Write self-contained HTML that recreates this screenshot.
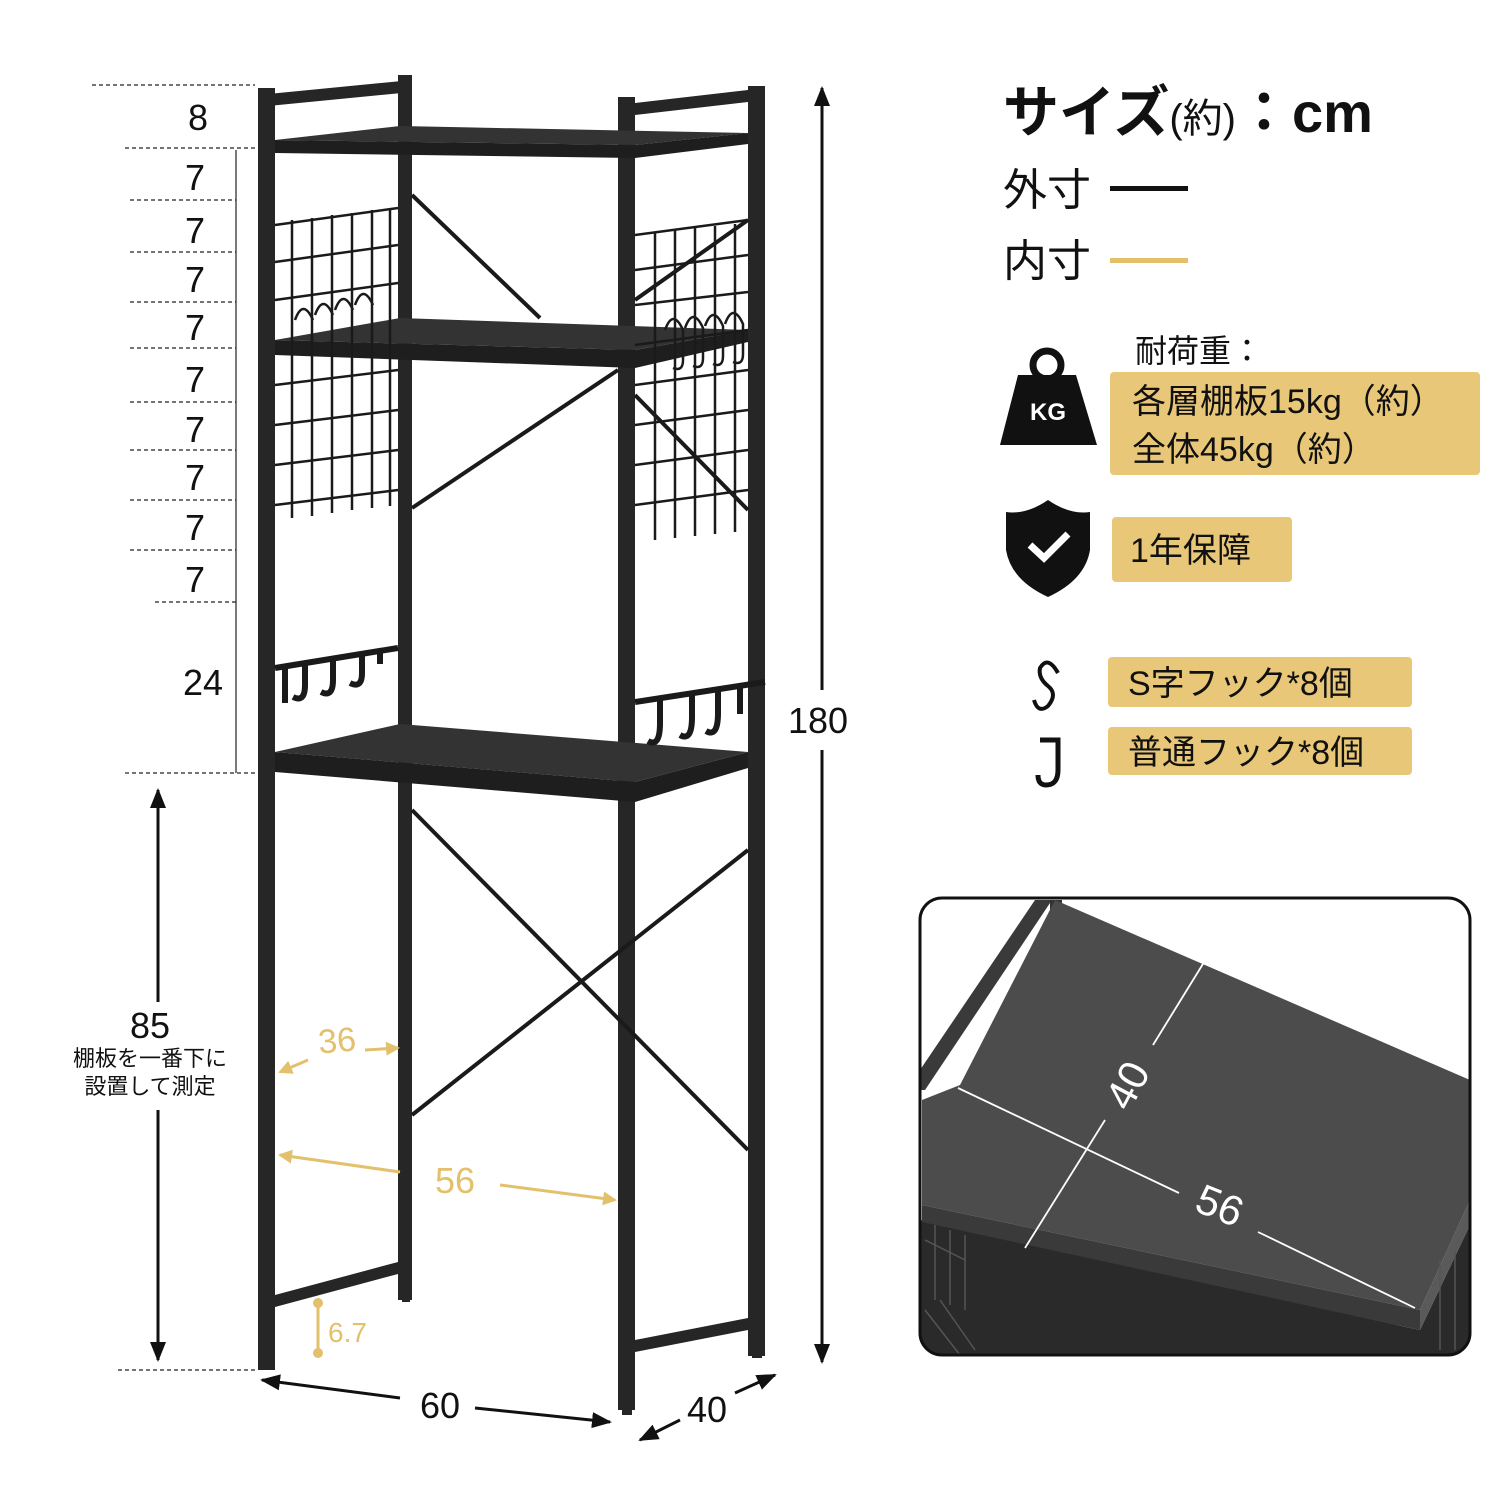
<!DOCTYPE html>
<html><head><meta charset="utf-8"><style>
html,body{margin:0;padding:0;background:#fff}
svg{display:block}
text{font-family:"Liberation Sans","Noto Sans CJK JP",sans-serif}
</style></head><body>
<svg width="1500" height="1500" viewBox="0 0 1500 1500" xmlns="http://www.w3.org/2000/svg">
<defs>
<marker id="ag" markerWidth="14" markerHeight="14" refX="12" refY="7" orient="auto" markerUnits="userSpaceOnUse"><path d="M0,0 L14,7 L0,14 z" fill="#e3c06b"/></marker>
<marker id="abk" markerWidth="20" markerHeight="20" refX="18" refY="10" orient="auto" markerUnits="userSpaceOnUse"><path d="M0,2 L20,10 L0,18 z" fill="#111"/></marker>
</defs>
<rect width="1500" height="1500" fill="#fff"/>

<g stroke="#222" stroke-width="1.2" stroke-dasharray="4,3">
<line x1="92" y1="85" x2="255" y2="85"/>
<line x1="125" y1="148" x2="255" y2="148"/>
<line x1="130" y1="200" x2="236" y2="200"/>
<line x1="130" y1="252" x2="236" y2="252"/>
<line x1="130" y1="302" x2="236" y2="302"/>
<line x1="130" y1="348" x2="236" y2="348"/>
<line x1="130" y1="402" x2="236" y2="402"/>
<line x1="130" y1="450" x2="236" y2="450"/>
<line x1="130" y1="500" x2="236" y2="500"/>
<line x1="130" y1="550" x2="236" y2="550"/>
<line x1="155" y1="602" x2="236" y2="602"/>
<line x1="125" y1="773" x2="258" y2="773"/>
<line x1="118" y1="1370" x2="258" y2="1370"/>
</g>
<line x1="236" y1="150" x2="236" y2="773" stroke="#222" stroke-width="1.2"/>
<g font-size="36" fill="#111" text-anchor="middle">
<text x="198" y="130">8</text>
<text x="195" y="190">7</text><text x="195" y="243">7</text><text x="195" y="292">7</text>
<text x="195" y="340">7</text><text x="195" y="392">7</text><text x="195" y="442">7</text>
<text x="195" y="490">7</text><text x="195" y="540">7</text><text x="195" y="592">7</text>
<text x="203" y="695">24</text>
<text x="150" y="1038">85</text>
<text x="818" y="733">180</text>
</g>
<text x="150" y="1066" font-size="22" text-anchor="middle" fill="#111">棚板を一番下に</text>
<text x="150" y="1094" font-size="22" text-anchor="middle" fill="#111">設置して測定</text>
<line x1="158" y1="1002" x2="158" y2="790" stroke="#111" stroke-width="3" marker-end="url(#abk)"/>
<line x1="158" y1="1110" x2="158" y2="1360" stroke="#111" stroke-width="3" marker-end="url(#abk)"/>
<line x1="822" y1="690" x2="822" y2="88" stroke="#111" stroke-width="3" marker-end="url(#abk)"/>
<line x1="822" y1="750" x2="822" y2="1362" stroke="#111" stroke-width="3" marker-end="url(#abk)"/>

<g fill="#262626">
<rect x="258" y="88" width="17" height="1282"/>
<rect x="398" y="75" width="14" height="1225"/>
<rect x="618" y="97" width="17" height="1313"/>
<rect x="748" y="86" width="17" height="1270"/>
<polygon points="258,95 412,80 412,92 258,107"/>
<polygon points="618,105 765,88 765,100 618,117"/>
<polygon points="275,1295 398,1262 398,1274 275,1307"/>
<polygon points="635,1340 748,1318 748,1330 635,1352"/>
<rect x="262" y="1362" width="10" height="8"/>
<rect x="622" y="1405" width="10" height="10"/>
<rect x="752" y="1350" width="10" height="8"/>
<rect x="402" y="1294" width="8" height="8"/>
</g>
<g>
<polygon points="275,140 400,126 748,133 635,145" fill="#333"/>
<polygon points="275,140 635,145 635,158 275,153" fill="#1e1e1e"/>
<polygon points="635,145 748,133 748,144 635,158" fill="#1e1e1e"/>
<polygon points="275,340 400,318 748,330 635,350" fill="#333"/>
<polygon points="275,340 635,350 635,368 275,355" fill="#1e1e1e"/>
<polygon points="635,350 748,330 748,342 635,368" fill="#1e1e1e"/>
<polygon points="275,752 400,724 748,752 635,782" fill="#333"/>
<polygon points="275,752 635,782 635,802 275,772" fill="#1e1e1e"/>
<polygon points="635,782 748,752 748,768 635,802" fill="#1e1e1e"/>
</g>
<g stroke="#1a1a1a" stroke-width="4" fill="none">
<line x1="412" y1="195" x2="540" y2="318"/>
<line x1="412" y1="508" x2="618" y2="370"/>
<line x1="635" y1="395" x2="748" y2="510"/>
<line x1="635" y1="300" x2="748" y2="220"/>
<line x1="412" y1="810" x2="748" y2="1150"/>
<line x1="412" y1="1115" x2="748" y2="850"/>
</g>
<g stroke="#1a1a1a" stroke-width="2.5" fill="none">
<path d="M275,225 L398,208 M275,262 L398,245 M275,300 L398,283"/>
<path d="M275,385 L398,370 M275,425 L398,410 M275,465 L398,450 M275,505 L398,490"/>
<path d="M292,220 V518 M312,218 V516 M332,215 V513 M352,213 V510 M372,210 V508 M390,208 V506"/>
<path d="M635,235 L748,220 M635,270 L748,255 M635,305 L748,292 M635,345 L748,330 M635,385 L748,370 M635,425 L748,410 M635,465 L748,450 M635,505 L748,490"/>
<path d="M655,232 V540 M675,230 V538 M695,228 V536 M715,226 V534 M735,224 V532"/>
<path d="M295,320 q8,-22 18,0 M315,315 q8,-22 18,0 M335,310 q8,-22 18,0 M355,305 q8,-22 18,0"/>
<path d="M665,330 q8,-22 18,0 v30 q0,12 -10,8 M685,328 q8,-22 18,0 v30 q0,12 -10,8 M705,326 q8,-22 18,0 v30 q0,12 -10,8 M725,324 q8,-22 18,0 v30 q0,12 -10,8"/>
</g>
<g stroke="#1a1a1a" stroke-width="6" fill="none">
<path d="M275,668 L398,648"/>
<path d="M285,668 v35 M305,665 v20 q0,18 -12,12 M333,660 v20 q0,18 -12,12 M362,655 v18 q0,16 -12,10 M380,652 v12"/>
<path d="M635,702 L765,682"/>
<path d="M660,698 v25 q0,25 -12,18 M692,692 v25 q0,25 -12,18 M718,688 v25 q0,25 -12,18 M740,684 v30"/>
</g>

<g stroke="#e3c06b" stroke-width="3" fill="none">
<line x1="308" y1="1060" x2="280" y2="1072" marker-end="url(#ag)"/>
<line x1="365" y1="1050" x2="398" y2="1048" marker-end="url(#ag)"/>
<line x1="400" y1="1172" x2="280" y2="1155" marker-end="url(#ag)"/>
<line x1="500" y1="1185" x2="615" y2="1200" marker-end="url(#ag)"/>
<line x1="318" y1="1305" x2="318" y2="1352"/>
</g>
<circle cx="318" cy="1303" r="5" fill="#e3c06b"/><circle cx="318" cy="1353" r="5" fill="#e3c06b"/>
<text x="337" y="1052" font-size="34" fill="#e3c06b" text-anchor="middle" transform="rotate(-5 337 1040)">36</text>
<text x="455" y="1193" font-size="36" fill="#e3c06b" text-anchor="middle">56</text>
<text x="328" y="1342" font-size="28" fill="#e3c06b">6.7</text>

<line x1="400" y1="1398" x2="262" y2="1380" stroke="#111" stroke-width="3" marker-end="url(#abk)"/>
<line x1="475" y1="1408" x2="610" y2="1422" stroke="#111" stroke-width="3" marker-end="url(#abk)"/>
<text x="440" y="1418" font-size="36" fill="#111" text-anchor="middle">60</text>
<line x1="680" y1="1420" x2="640" y2="1440" stroke="#111" stroke-width="3" marker-end="url(#abk)"/>
<line x1="735" y1="1393" x2="775" y2="1375" stroke="#111" stroke-width="3" marker-end="url(#abk)"/>
<text x="707" y="1422" font-size="36" fill="#111" text-anchor="middle">40</text>

<text x="1003" y="132" font-size="56" font-weight="bold" fill="#111">サイズ<tspan font-size="40" font-weight="normal">(約)</tspan>：cm</text>
<text x="1003" y="205" font-size="44" fill="#111">外寸</text>
<rect x="1110" y="186" width="78" height="5" fill="#111"/>
<text x="1003" y="276" font-size="44" fill="#111">内寸</text>
<rect x="1110" y="258" width="78" height="5" fill="#e3c06b"/>

<circle cx="1047" cy="365" r="14" fill="none" stroke="#111" stroke-width="7"/>
<polygon points="1018,375 1076,375 1097,445 1000,445" fill="#111"/>
<text x="1048" y="420" font-size="24" font-weight="bold" fill="#fff" text-anchor="middle">KG</text>
<text x="1135" y="362" font-size="32" fill="#111">耐荷重：</text>
<rect x="1110" y="372" width="370" height="103" rx="4" fill="#e8c778"/>
<text x="1132" y="413" font-size="34" fill="#111">各層棚板15kg（約）</text>
<text x="1132" y="461" font-size="34" fill="#111">全体45kg（約）</text>

<path d="M1048,500 Q1070,515 1090,512 L1090,550 Q1085,580 1048,597 Q1011,580 1006,550 L1006,512 Q1026,515 1048,500 z" fill="#111"/>
<path d="M1030,545 L1044,558 L1068,534" stroke="#fff" stroke-width="7" fill="none"/>
<rect x="1112" y="517" width="180" height="65" rx="4" fill="#e8c778"/>
<text x="1130" y="562" font-size="34" fill="#111">1年保障</text>

<path d="M1058,673 q-10,-18 -18,-5 q-2,10 8,18 q10,8 0,20 q-10,8 -14,-6" stroke="#111" stroke-width="4" fill="none"/>
<path d="M1040,740 h18 v30 q0,15 -12,15 q-8,0 -8,-10" stroke="#111" stroke-width="5" fill="none"/>
<rect x="1108" y="657" width="304" height="50" rx="4" fill="#e8c778"/>
<text x="1128" y="695" font-size="34" fill="#111">S字フック*8個</text>
<rect x="1108" y="727" width="304" height="48" rx="4" fill="#e8c778"/>
<text x="1128" y="764" font-size="34" fill="#111">普通フック*8個</text>

<clipPath id="ic"><rect x="920" y="898" width="550" height="457" rx="22"/></clipPath>
<g clip-path="url(#ic)">
<rect x="920" y="898" width="550" height="457" fill="#fff"/>
<polygon points="1035,900 1052,900 925,1090 920,1090 920,1070" fill="#3a3a3a"/>
<rect x="1050" y="900" width="12" height="40" fill="#333"/>
<polygon points="920,1220 1420,1330 1470,1225 1470,1360 920,1360" fill="#2a2a2a"/>
<polygon points="1055,900 1470,1080 1470,1200 1420,1310 922,1205 922,1100 960,1085" fill="#4c4c4c"/>
<polygon points="922,1205 1420,1310 1420,1330 922,1222" fill="#3a3a3a"/>
<polygon points="1420,1310 1470,1200 1470,1225 1420,1330" fill="#5a5a5a"/>
<g stroke="#555" stroke-width="1.5" fill="none">
<path d="M925,1240 L965,1260 M935,1225 V1300 M950,1230 V1305 M965,1235 V1310"/>
<path d="M925,1310 L960,1355 M940,1300 L975,1350"/>
<path d="M1440,1260 V1350 M1455,1250 V1350"/>
</g>
</g>
<rect x="920" y="898" width="550" height="457" rx="22" fill="none" stroke="#111" stroke-width="3"/>
<g stroke="#fff" stroke-width="1.8">
<line x1="1206" y1="959" x2="1153" y2="1045"/>
<line x1="1105" y1="1120" x2="1025" y2="1248"/>
<line x1="958" y1="1088" x2="1179" y2="1193"/>
<line x1="1258" y1="1232" x2="1415" y2="1308"/>
</g>
<text x="1127" y="1100" font-size="42" fill="#fff" text-anchor="middle" transform="rotate(-62 1127 1085)">40</text>
<text x="1220" y="1220" font-size="42" fill="#fff" text-anchor="middle" transform="rotate(22 1220 1205)">56</text>
</svg>
</body></html>
